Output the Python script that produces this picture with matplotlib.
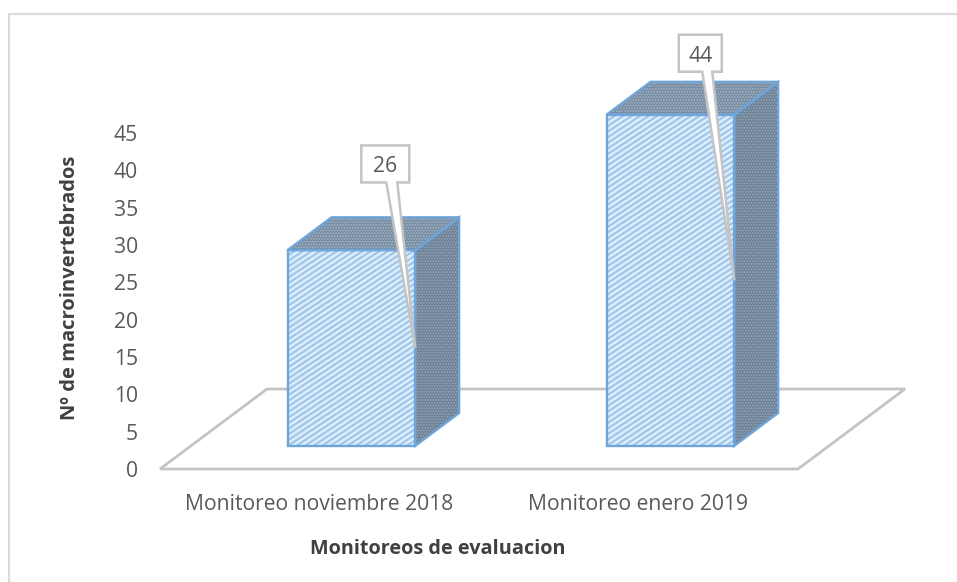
#!/usr/bin/env python3
import matplotlib
matplotlib.use("Agg")
import matplotlib.pyplot as plt
import numpy as np
from matplotlib.patches import Polygon
from matplotlib.lines import Line2D
from matplotlib.transforms import IdentityTransform

categories = ["Monitoreo noviembre 2018", "Monitoreo enero 2019"]
values = [26, 44]
yticks = [0, 5, 10, 15, 20, 25, 30, 35, 40, 45]
# label box centre relative to the leader tip, box half width, leader foot, all px
box_offsets = [(-30, 184), (-34, 227)]
box_half_w = [24, 21.5]
foot_offsets = [(1, 12), (2, 12)]

W, H = 957, 582
BLUE = "#6fa5d8"
GREY = "#c4c4c4"
TEXT = "#595959"
# floor depth in px, bar sits between d0 and d1 of it
DX, DY = 107, 80
D0, D1 = 0.29, 0.70
BAR_W = 0.40
BAR_SHIFT = 0.003
STRETCH = 1.008  # bars run a little taller than the tick spacing

plt.rcParams["font.family"] = ["Open Sans", "DejaVu Sans"]
plt.rcParams["hatch.linewidth"] = 0.8

fig = plt.figure(figsize=(W / 100, H / 100), dpi=100)
ax = fig.add_axes([160 / W, 1 - 469 / H, 638 / W, 336 / H])
ax.set_xlim(-0.5, 1.5)
ax.set_ylim(0, 45)
ax.patch.set_visible(False)
for s in ax.spines.values():
    s.set_visible(False)

ax.set_yticks(yticks)
ax.set_xticks(range(len(categories)))
ax.set_xticklabels(categories)
ax.tick_params(axis="both", length=0, labelsize=15.2, labelcolor=TEXT)
ax.tick_params(axis="x", pad=18)
ax.tick_params(axis="y", pad=16)
ax.set_xlabel("Monitoreos de evaluacion", fontsize=14.3, fontweight="bold", color="#404040")
ax.xaxis.set_label_coords(0.435, -0.209)
ax.set_ylabel("Nº de macroinvertebrados", fontsize=14.5, fontweight="bold", color="#404040")
ax.yaxis.set_label_coords(-0.126, 0.54)


def to_px(x, v, d=0.0):
    # data position plus a depth fraction, as display px
    px, py = ax.transData.transform((x, v))
    return px + d * DX, py + d * DY


def poly(points, **kw):
    p = Polygon(points, closed=True, transform=IdentityTransform(), **kw)
    fig.add_artist(p)
    return p


def stripes(face, clip_patch, slope=0.66, step=5.6):
    # shallow diagonal fill pattern, matplotlib hatches only do 45 degrees
    xs = [p[0] for p in face]
    ys = [p[1] for p in face]
    x_a, x_b = min(xs), max(xs)
    start = min(ys) - slope * (x_b - x_a)
    for c in np.arange(start, max(ys), step):
        ln = Line2D([x_a, x_b], [c, c + slope * (x_b - x_a)], color="#9ec5ea", linewidth=1.5,
                    transform=IdentityTransform(), zorder=3.1)
        fig.add_artist(ln)
        ln.set_clip_path(clip_patch)


# frame, only top and left are visible
fig.add_artist(Line2D([9 / W, 9 / W, 1], [0, 1 - 14 / H, 1 - 14 / H], color="#dcdcdc", linewidth=1.6))

# floor
x0, x1 = ax.get_xlim()
poly([to_px(x0, 0), to_px(x1, 0), to_px(x1, 0, 1), to_px(x0, 0, 1)],
     facecolor="white", edgecolor=GREY, linewidth=2, joinstyle="miter", zorder=1)

for i, v in enumerate(values):
    h = v * STRETCH
    l, r = i - BAR_W / 2 + BAR_SHIFT, i + BAR_W / 2 + BAR_SHIFT
    front = [to_px(l, 0, D0), to_px(r, 0, D0), to_px(r, h, D0), to_px(l, h, D0)]
    top = [to_px(l, h, D0), to_px(r, h, D0), to_px(r, h, D1), to_px(l, h, D1)]
    side = [to_px(r, 0, D0), to_px(r, 0, D1), to_px(r, h, D1), to_px(r, h, D0)]
    poly(side, facecolor="#6d8399", edgecolor="none", zorder=2)
    poly(side, facecolor="none", edgecolor="#98a6b4", hatch="......", linewidth=0, zorder=2.1)
    poly(top, facecolor="#768da4", edgecolor="none", zorder=2)
    poly(top, facecolor="none", edgecolor="#a9b7c5", hatch="......", linewidth=0, zorder=2.1)
    fp = poly(front, facecolor="#dcedfb", edgecolor="none", zorder=3)
    stripes(front, fp)
    for face in (front, top, side):
        poly(face, facecolor="none", edgecolor=BLUE, linewidth=1.7, zorder=3.2)

    # callout: leader tip at mid height of the front face right edge
    tx, ty = to_px(r, h / 2, D0)
    ox, oy = box_offsets[i]
    cx, cy = tx + ox, ty + oy
    bw, bh = box_half_w[i], 18.5
    fl, fr = foot_offsets[i]
    shape = [(cx - bw, cy - bh), (cx + fl, cy - bh), (tx, ty), (cx + fr, cy - bh),
             (cx + bw, cy - bh), (cx + bw, cy + bh), (cx - bw, cy + bh)]
    poly(shape, facecolor="white", edgecolor=GREY, linewidth=1.8, joinstyle="miter", zorder=4)
    fig.text(cx / W, (cy - 3) / H, str(v), ha="center", va="center", fontsize=15.2,
             color=TEXT, zorder=5)

fig.savefig("out.png", dpi=100)
